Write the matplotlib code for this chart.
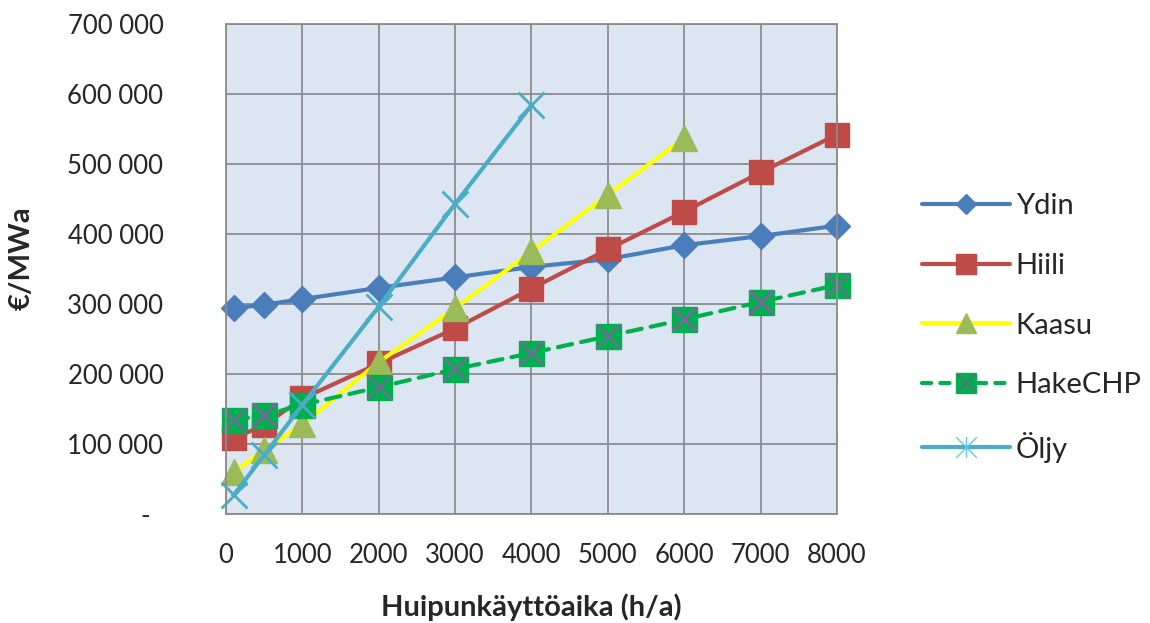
import matplotlib
matplotlib.use("Agg")
import matplotlib.pyplot as plt
from matplotlib.lines import Line2D
from matplotlib.path import Path
from matplotlib.legend_handler import HandlerTuple

plt.rcParams["font.family"] = ["Lato", "DejaVu Sans"]

# peak utilisation time (h/a)
hours = [100, 500, 1000, 2000, 3000, 4000, 5000, 6000, 7000, 8000]

ydin = [294000, 299000, 307000, 323000, 338000, 353000, 364000, 384000, 397000, 412000]
hiili = [108000, 127000, 165000, 215000, 265000, 322000, 378000, 432000, 488000, 542000]
kaasu = [60000, 91000, 128000, 217000, 294000, 375000, 456000, 537000]
hake = [134000, 141000, 156000, 181000, 207000, 230000, 254000, 278000, 303000, 327000]
oljy = [27000, 84000, 156000, 296000, 443000, 584000]

labels = ["Ydin", "Hiili", "Kaasu", "HakeCHP", "Öljy"]
yticks = [0, 100000, 200000, 300000, 400000, 500000, 600000, 700000]
xticks = [0, 1000, 2000, 3000, 4000, 5000, 6000, 7000, 8000]

c_blue = "#4a7ebb"
c_red = "#be4b48"
c_yellow = "#ffff00"
c_olive = "#9bbb59"
c_green = "#00b050"
c_purple = "#7f64a0"
c_cyan = "#4bacc6"
c_text = "#262626"

# Excel-style star: an X with a vertical bar through it
star = Path(
    [(-0.5, -0.5), (0.5, 0.5), (-0.5, 0.5), (0.5, -0.5), (0, -0.5), (0, 0.5)],
    [Path.MOVETO, Path.LINETO, Path.MOVETO, Path.LINETO, Path.MOVETO, Path.LINETO],
)

fig = plt.figure(figsize=(11.5, 6.23), dpi=100)
ax = fig.add_axes([0.1965, 0.175, 0.5313, 0.7865])
ax.set_facecolor("#dce6f2")

lw = 3.0
ax.plot(hours, ydin, color=c_blue, lw=lw, marker="D", ms=13.5, mec=c_blue,
        mfc=c_blue, clip_on=False, solid_joinstyle="round")
ax.plot(hours, hiili, color=c_red, lw=lw, marker="s", ms=17, mec=c_red,
        mfc=c_red, clip_on=False, solid_joinstyle="round")
ax.plot(hours[:len(kaasu)], kaasu, color=c_yellow, lw=lw, marker="^", ms=19,
        mec=c_olive, mfc=c_olive, clip_on=False)
ax.plot(hours, hake, color=c_green, lw=lw, ls=(0, (3.5, 2.2)),
        dash_capstyle="round", marker="s", ms=18, mec=c_green, mfc=c_green,
        clip_on=False)
ax.plot(hours, hake, ls="none", marker="x", ms=17, mew=1.8, mec=c_purple,
        clip_on=False)
ax.plot(hours[:len(oljy)], oljy, color=c_cyan, lw=lw, clip_on=False)
ax.plot(hours[:len(oljy)], oljy, ls="none", marker="x", ms=19, mew=2.0,
        mec=c_cyan, clip_on=False)

ax.set_xlim(0, 8000)
ax.set_ylim(0, 700000)
ax.set_xticks(xticks)
ax.set_xticklabels([str(v) for v in xticks])
ax.set_yticks(yticks)
ax.set_yticklabels(["-  " if v == 0 else f"{v:,}".replace(",", " ") for v in yticks])

ax.grid(True, color="#8c8c8c", lw=1.3)
ax.set_axisbelow(True)
for sp in ax.spines.values():
    sp.set_color("#8c8c8c")
    sp.set_linewidth(1.3)
ax.tick_params(length=0, labelsize=18.5, colors=c_text)
ax.tick_params(axis="y", pad=45)
ax.tick_params(axis="x", pad=21)

fig.text(0.4622, 0.026, "Huipunkäyttöaika (h/a)", fontsize=21,
         fontweight="bold", color=c_text, ha="center", va="center")
fig.text(0.019, 0.586, "€/MWa", fontsize=21, fontweight="bold",
         color=c_text, ha="center", va="center", rotation=90)

# legend with smaller markers
h_ydin = Line2D([], [], color=c_blue, lw=lw, marker="D", ms=10, mfc=c_blue,
                mec=c_blue, solid_capstyle="round")
h_hiili = Line2D([], [], color=c_red, lw=lw, marker="s", ms=14, mfc=c_red,
                 mec=c_red, solid_capstyle="round")
h_kaasu = Line2D([], [], color=c_yellow, lw=lw, marker="^", ms=15,
                 mfc=c_olive, mec=c_olive, solid_capstyle="round")
h_hake = Line2D([], [], color=c_green, lw=lw, ls=(0, (2.2, 2.2)),
                dash_capstyle="round", marker="s", ms=14, mfc=c_green,
                mec=c_green)
h_hake_x = Line2D([], [], ls="none", marker="x", ms=13, mew=1.2,
                  mec="#5f6e70")
h_oljy = Line2D([], [], color=c_cyan, lw=lw, solid_capstyle="round")
h_oljy_s = Line2D([], [], ls="none", marker=star, ms=15, mew=1.0,
                  mec="#5fc8e8")

fig.legend(
    [h_ydin, h_hiili, h_kaasu, (h_hake, h_hake_x), (h_oljy, h_oljy_s)],
    labels,
    handler_map={tuple: HandlerTuple(ndivide=1)},
    loc="center left",
    bbox_to_anchor=(0.802, 0.4735),
    frameon=False,
    fontsize=21,
    labelcolor=c_text,
    handlelength=3.0,
    handletextpad=0.2,
    labelspacing=1.15,
    borderpad=0,
    borderaxespad=0,
)

fig.savefig("out.png", dpi=100)
